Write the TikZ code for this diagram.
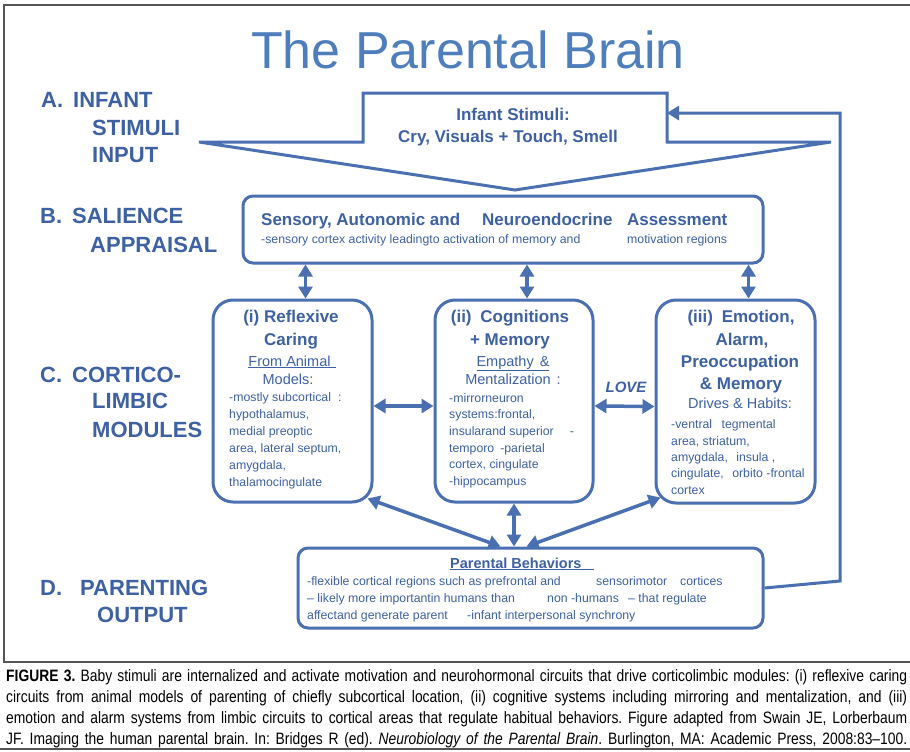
\documentclass[tikz,border=0pt]{standalone}
\usepackage{fontspec}
\setmainfont{Liberation Sans}
\newfontfamily\capfont{Liberation Sans}[FakeStretch=0.84,Ligatures=TeX]
\usetikzlibrary{arrows.meta,calc}
\definecolor{lblue}{RGB}{74,112,177}
\definecolor{tblue}{RGB}{62,97,163}
\definecolor{ttlblue}{RGB}{79,126,189}
\definecolor{framegray}{RGB}{85,85,85}
\tikzset{
  box/.style={draw=lblue, line width=3pt, fill=white, inner sep=0pt},
  lbl/.style={text=tblue, font=\fontsize{22}{26}\selectfont\bfseries, anchor=base west, inner sep=0pt},
  hd/.style={text=tblue, font=\fontsize{17}{22}\selectfont\bfseries, anchor=base, inner sep=0pt},
  sub/.style={text=tblue, font=\fontsize{14.5}{18}\selectfont, anchor=base, inner sep=0pt},
  body/.style={text=tblue, font=\fontsize{12.3}{17}\selectfont, anchor=base west, inner sep=0pt},
  dbl/.style={draw=lblue, line width=3.5pt, {Triangle[width=14pt,length=12pt]}-{Triangle[width=14pt,length=12pt]}},
  fb/.style={draw=lblue, line width=3pt},
  captxt/.style={text=black, font=\capfont\fontsize{16.5}{21}\selectfont\frenchspacing, anchor=base west, inner sep=0pt},
}
\begin{document}
\begin{tikzpicture}[x=1pt,y=-1pt]
\useasboundingbox (0,0) rectangle (910,752);
\fill[white] (0,0) rectangle (910,752);
% frame
\draw[framegray, line width=1.6pt] (915,5) -- (4,5) -- (4,662) -- (915,662);
\draw[framegray, line width=1.6pt] (0,749) -- (915,749);

% title
\node[text=ttlblue, font=\fontsize{52}{60}\selectfont, anchor=base, inner sep=0pt] (title) at (468,69) {The Parental Brain};

% left labels
\node[lbl] (la1) at (41,107) {A.\hspace{10pt}INFANT};
\node[lbl] (la2) at (92,135) {STIMULI};
\node[lbl] (la3) at (92,162) {INPUT};
\node[lbl] (lb1) at (40,223) {B.\hspace{10pt}SALIENCE};
\node[lbl] (lb2) at (90,252) {APPRAISAL};
\node[lbl] (lc1) at (40,382) {C.\hspace{10pt}CORTICO-};
\node[lbl] (lc2) at (92,408) {LIMBIC};
\node[lbl] (lc3) at (92,437) {MODULES};
\node[lbl] (ld1) at (40,595) {D.\hspace{18pt}PARENTING};
\node[lbl] (ld2) at (97,622) {OUTPUT};

% infant stimuli arrow shape
\draw[lblue, line width=3pt, fill=white, line join=miter]
  (363,93) -- (667,93) -- (667,142) -- (831,142) -- (515,190) -- (199,142) -- (363,142) -- cycle;
\coordinate (infR) at (667,113);
\node[hd] (inf1) at (513,120) {Infant Stimuli:};
\node[hd] (inf2) at (508,142) {Cry, Visuals + Touch, Smell};

% salience box
\node[box, rounded corners=10pt, minimum width=520pt, minimum height=67pt] (sal) at (503,229.5) {};
\node[hd] at (261,225) [anchor=base west] (s1a) {Sensory, Autonomic and};
\node[hd] at (482,225) [anchor=base west] (s1b) {Neuroendocrine};
\node[hd] at (627,225) [anchor=base west] (s1c) {Assessment};
\node[body] (s2a) at (261,243) {-sensory cortex activity leadingto activation of memory and};
\node[body] (s2b) at (627,243) {motivation regions};

% module boxes
\node[box, rounded corners=20pt, minimum width=159pt, minimum height=202pt] (m1) at (292.5,401) {};
\node[box, rounded corners=20pt, minimum width=158pt, minimum height=202pt] (m2) at (514,401) {};
\node[box, rounded corners=20pt, minimum width=159pt, minimum height=203pt] (m3) at (735.5,401.5) {};

% module (i)
\node[hd] (m1h1) at (291,322) {(i) Reflexive};
\node[hd] (m1h2) at (291,345) {Caring};
\node[sub] (m1s1) at (292,366) {\underline{From Animal\hspace{5pt}}};
\node[sub] (m1s2) at (288,384) {Models:};
\node[body] (m1b1) at (229,401) {-mostly subcortical\hspace{7pt}:};
\node[body] (m1b2) at (229,418) {hypothalamus,};
\node[body] (m1b3) at (229,435) {medial preoptic};
\node[body] (m1b4) at (229,452) {area, lateral septum,};
\node[body] (m1b5) at (229,469) {amygdala,};
\node[body] (m1b6) at (229,486) {thalamocingulate};

% module (ii)
\node[hd] (m2h1) at (510,322) {(ii)\hspace{4pt} Cognitions};
\node[hd] (m2h2) at (510,345) {+ Memory};
\node[sub] (m2s1) at (513,366) {\underline{Empathy\hspace{6pt}\&}};
\node[sub] (m2s2) at (513,384) {Mentalization\hspace{6pt}:};
\node[body] (m2b1) at (449,402) {-mirrorneuron};
\node[body] (m2b2) at (449,418) {systems:frontal,};
\node[body] (m2b3) at (449,435) {insularand superior\hspace{16pt}-};
\node[body] (m2b4) at (449,452) {temporo\hspace{6pt}-parietal};
\node[body] (m2b5) at (449,468) {cortex, cingulate};
\node[body] (m2b6) at (449,485) {-hippocampus};

% module (iii)
\node[hd] (m3h1) at (741,322) {(iii)\hspace{4pt} Emotion,};
\node[hd] (m3h2) at (742,345) {Alarm,};
\node[hd] (m3h3) at (740,367) {Preoccupation};
\node[hd] (m3h4) at (741,389) {\& Memory};
\node[sub] (m3s1) at (740,408) {Drives \& Habits:};
\node[body] (m3b1) at (671,428) {-ventral\hspace{6pt} tegmental};
\node[body] (m3b2) at (671,445) {area, striatum,};
\node[body] (m3b3) at (671,461) {amygdala,\hspace{5pt} insula ,};
\node[body] (m3b4) at (671,477) {cingulate,\hspace{5pt} orbito -frontal};
\node[body] (m3b5) at (671,494) {cortex};

% bottom box
\node[box, rounded corners=10pt, minimum width=465pt, minimum height=80pt] (bot) at (530.5,588) {};
\node[text=tblue, font=\fontsize{14.5}{18}\selectfont\bfseries, anchor=base west, inner sep=0pt] (b0) at (450,568) {\underline{Parental Behaviors\hspace{12pt}}};
\node[body] (b1a) at (307,585) {-flexible cortical regions such as prefrontal and};
\node[body] (b1b) at (596,585) {sensorimotor};
\node[body] (b1c) at (680,585) {cortices};
\node[body] (b2a) at (307,602) {– likely more importantin humans than};
\node[body] (b2b) at (547,602) {non -humans};
\node[body] (b2c) at (628,602) {– that regulate};
\node[body] (b3a) at (307,619) {affectand generate parent};
\node[body] (b3b) at (467,619) {-infant interpersonal synchrony};

% connectors salience <-> modules
\coordinate (a1) at ([xshift=13pt]m1.north);
\coordinate (a2) at ([xshift=13pt]m2.north);
\coordinate (a3) at ([xshift=13pt]m3.north);
\draw[dbl] (a1 |- sal.south) -- (a1);
\draw[dbl] (a2 |- sal.south) -- (a2);
\draw[dbl] (a3 |- sal.south) -- (a3);

% horizontal module arrows
\draw[dbl] ([yshift=-5pt]m1.east) -- ([yshift=-5pt]m2.west);
\draw[dbl] ([yshift=-5pt]m2.east) -- ([yshift=-5pt]m3.west);
\node[text=tblue, font=\fontsize{15}{18}\selectfont\bfseries\itshape, anchor=base, inner sep=0pt] (love) at (626,392) {LOVE};

% modules <-> bottom
\coordinate (c1) at ([xshift=-6pt,yshift=5pt]m1.south east);
\coordinate (c3) at ([xshift=6pt,yshift=7pt]m3.south west);
\draw[dbl] (c1) -- ([xshift=-30pt]bot.north);
\draw[dbl] (m2.south) -- (m2.south |- bot.north);
\draw[dbl] (c3) -- ([xshift=-4pt]bot.north);

% feedback loop
\coordinate (fb1) at (840,581);
\coordinate (fb2) at (840,113);
\draw[fb, -{Triangle[width=14pt,length=12pt]}] (bot.east) -- (fb1) -- (fb2) -- (infR);

% caption
\node[captxt] (cap1) at (6,681) {\makebox[901pt][s]{\textbf{FIGURE 3.} Baby stimuli are internalized and activate motivation and neurohormonal circuits that drive corticolimbic modules: (i) reflexive caring}};
\node[captxt] (cap2) at (6,702) {\makebox[901pt][s]{circuits from animal models of parenting of chiefly subcortical location, (ii) cognitive systems including mirroring and mentalization, and (iii)}};
\node[captxt] (cap3) at (6,723) {\makebox[901pt][s]{emotion and alarm systems from limbic circuits to cortical areas that regulate habitual behaviors. Figure adapted from Swain JE, Lorberbaum}};
\node[captxt] (cap4) at (6,744) {\makebox[901pt][s]{JF. Imaging the human parental brain. In: Bridges R (ed). \textit{Neurobiology of the Parental Brain}. Burlington, MA: Academic Press, 2008:83–100.}};
\end{tikzpicture}
\end{document}
